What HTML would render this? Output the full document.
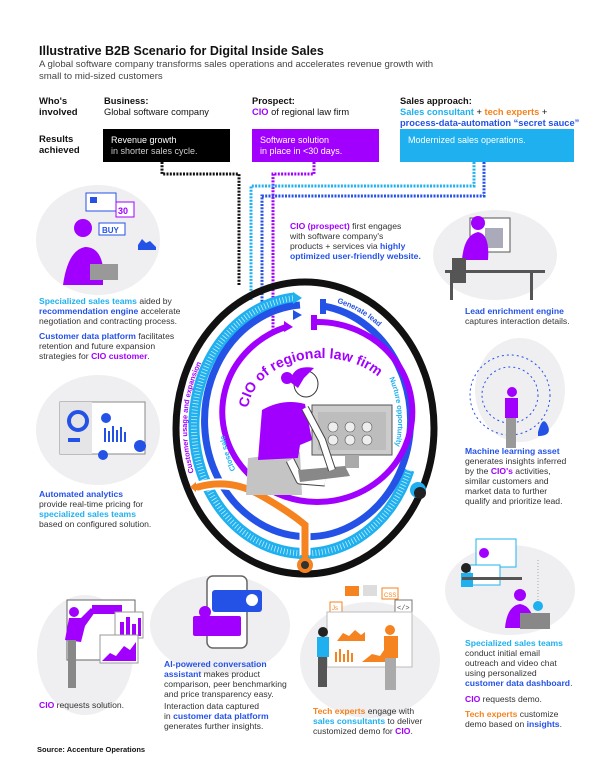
<!DOCTYPE html>
<html><head><meta charset="utf-8"><style>
*{margin:0;padding:0;box-sizing:border-box}
body{width:605px;height:770px;background:#fff;position:relative;overflow:hidden;font-family:"Liberation Sans",sans-serif;color:#222}
.t{position:absolute;font-size:8.6px;line-height:10px;white-space:nowrap;color:#333}
.b{font-weight:bold}
.p{color:#a100ff;font-weight:bold}.lb{color:#1fb0ef;font-weight:bold}.db{color:#2452e6;font-weight:bold}.o{color:#f5831f;font-weight:bold}
.box{position:absolute;top:129px;height:33px;color:#fff;font-size:9px;line-height:11px;padding:6px 8px}
svg{position:absolute;left:0;top:0}
</style></head><body>
<svg width="605" height="770" viewBox="0 0 605 770">
<defs>
<path id="cioArc" d="M248,412 A74,54 0 0 1 396,412"/>
<path id="custArc" d="M192,473 A120,136 0 0 1 236,316"/>
<path id="closeArc" d="M233,471 A88,100 0 0 1 222,404"/>
<path id="genArc" d="M338,300 A112,125 0 0 1 401,349"/>
<path id="nurtArc" d="M392,377 A92,104 0 0 1 389,473"/>
<path id="lbArc" d="M409,470 A111,128 0 1 1 295,298"/>
</defs>
<!-- illustration blobs -->
<g fill="#efeff1">
<ellipse cx="98" cy="240" rx="62" ry="55"/>
<ellipse cx="495" cy="255" rx="62" ry="45"/>
<ellipse cx="98" cy="430" rx="62" ry="55"/>
<ellipse cx="520" cy="390" rx="45" ry="52"/>
<ellipse cx="85" cy="655" rx="48" ry="60"/>
<ellipse cx="220" cy="625" rx="70" ry="50"/>
<ellipse cx="370" cy="660" rx="70" ry="58"/>
<ellipse cx="510" cy="590" rx="65" ry="45"/>
</g>
<!-- top-left illustration -->
<rect x="86" y="193" width="30" height="18" fill="#fff" stroke="#2452e6"/><rect x="90" y="197" width="7" height="6" fill="#2452e6"/>
<rect x="116" y="202" width="18" height="15" fill="#fff" stroke="#a100ff"/><text x="118" y="214" font-size="9" font-weight="bold" fill="#a100ff" font-family="Liberation Sans">30</text>
<rect x="99" y="223" width="26" height="12" fill="#fff" stroke="#2452e6"/><text x="102" y="233" font-size="8" font-weight="bold" fill="#2452e6" font-family="Liberation Sans">BUY</text>
<path d="M138,245 l4,-6 4,4 4,-2 6,6 0,3 -18,0z" fill="#2452e6"/>
<circle cx="83" cy="228" r="9" fill="#a100ff"/>
<path d="M63,285 q5,-35 22,-38 q15,0 18,20 l0,18z" fill="#a100ff"/>
<rect x="90" y="264" width="28" height="16" fill="#999"/>
<!-- top-right illustration -->
<rect x="470" y="218" width="40" height="34" fill="#fff" stroke="#555"/><rect x="485" y="228" width="18" height="20" fill="#aab"/>
<circle cx="478" cy="223" r="7" fill="#a100ff"/><path d="M462,260 q2,-25 16,-28 q12,2 10,28z" fill="#a100ff"/>
<rect x="452" y="258" width="14" height="25" fill="#555"/><rect x="445" y="270" width="100" height="3" fill="#555"/>
<rect x="450" y="273" width="3" height="27" fill="#555"/><rect x="530" y="273" width="3" height="27" fill="#555"/>
<!-- analytics illustration -->
<rect x="60" y="402" width="85" height="52" fill="#fff" stroke="#888"/><rect x="60" y="402" width="32" height="52" fill="#e5e5e8"/>
<circle cx="78" cy="421" r="9" fill="none" stroke="#2452e6" stroke-width="4"/>
<circle cx="106" cy="418" r="5" fill="#2452e6"/>
<g fill="#2452e6"><rect x="104" y="428" width="2" height="14"/><rect x="108" y="431" width="2" height="11"/><rect x="112" y="426" width="2" height="16"/><rect x="116" y="430" width="2" height="12"/><rect x="120" y="427" width="2" height="15"/><rect x="124" y="432" width="2" height="10"/><rect x="68" y="438" width="12" height="4"/></g>
<circle cx="140" cy="446" r="6" fill="#2452e6"/><circle cx="103" cy="455" r="5" fill="#2452e6"/>
<!-- ML illustration -->
<circle cx="510" cy="395" r="40" fill="none" stroke="#2452e6" stroke-width="1" stroke-dasharray="2 3"/>
<circle cx="510" cy="395" r="28" fill="none" stroke="#2452e6" stroke-width="1" stroke-dasharray="2 3"/>
<circle cx="512" cy="392" r="5" fill="#a100ff"/><rect x="505" y="398" width="13" height="20" fill="#a100ff"/><rect x="506" y="418" width="10" height="30" fill="#999"/>
<path d="M538,432 q5,-18 10,-6 q4,10 -10,10z" fill="#2452e6"/>
<!-- bottom-left illustration -->
<rect x="67" y="600" width="68" height="60" fill="#fff" stroke="#666"/><rect x="92" y="605" width="30" height="9" fill="#a100ff"/>
<rect x="115" y="612" width="28" height="26" fill="#fff" stroke="#999"/><g fill="#a100ff"><rect x="120" y="622" width="4" height="14"/><rect x="126" y="617" width="4" height="19"/><rect x="132" y="624" width="4" height="12"/><rect x="138" y="618" width="3" height="18"/></g>
<rect x="100" y="635" width="38" height="28" fill="#fff" stroke="#999"/><path d="M102,661 l8,-8 6,3 8,-10 6,4 6,-8 0,19z" fill="#a100ff"/>
<circle cx="74" cy="612" r="5" fill="#a100ff"/><path d="M65,640 l4,-22 12,0 10,-10 4,4 -10,14 -4,16z" fill="#a100ff"/><rect x="68" y="640" width="8" height="48" fill="#888"/>
<!-- phone -->
<rect x="207" y="576" width="40" height="72" rx="6" fill="#fff" stroke="#666" stroke-width="1.5"/>
<rect x="212" y="590" width="50" height="22" rx="3" fill="#2452e6"/><circle cx="252" cy="600" r="6" fill="#fff"/>
<rect x="193" y="616" width="48" height="20" rx="2" fill="#a100ff"/><circle cx="205" cy="612" r="6" fill="#a100ff"/>
<!-- tech experts -->
<rect x="345" y="586" width="14" height="10" fill="#f5831f"/><rect x="363" y="585" width="14" height="11" fill="#ddd"/><rect x="382" y="588" width="16" height="11" fill="#fff" stroke="#f5831f"/><text x="384" y="597" font-size="6" fill="#f5831f" font-family="Liberation Sans">CSS</text>
<rect x="330" y="602" width="12" height="10" fill="#fff" stroke="#f5831f"/><text x="332" y="610" font-size="6" fill="#f5831f" font-family="Liberation Sans">Js</text>
<rect x="395" y="600" width="17" height="13" fill="#fff" stroke="#777"/><text x="397" y="610" font-size="7" fill="#555" font-family="Liberation Mono">&lt;/&gt;</text>
<rect x="327" y="612" width="85" height="55" fill="#fff" stroke="#bbb"/>
<path d="M337,641 l6,-8 6,3 6,-6 6,5 4,-3 0,9z" fill="#f5831f"/><g fill="#f5831f"><rect x="335" y="652" width="2" height="10"/><rect x="339" y="649" width="2" height="13"/><rect x="343" y="654" width="2" height="8"/><rect x="347" y="650" width="2" height="12"/><rect x="351" y="653" width="2" height="9"/></g>
<path d="M362,662 l10,-8 8,2 8,-12 0,18z" fill="#f5831f"/>
<circle cx="323" cy="632" r="5" fill="#222"/><rect x="317" y="637" width="12" height="20" fill="#1fb0ef"/><rect x="318" y="657" width="9" height="30" fill="#555"/>
<circle cx="390" cy="630" r="5" fill="#f5831f"/><rect x="384" y="636" width="14" height="22" fill="#f5831f"/><rect x="385" y="658" width="11" height="32" fill="#aaa"/>
<!-- right bottom illustration -->
<rect x="476" y="539" width="40" height="28" fill="#fff" stroke="#1fb0ef"/><circle cx="484" cy="553" r="5" fill="#a100ff"/>
<rect x="470" y="565" width="30" height="20" fill="#fff" stroke="#1fb0ef"/><circle cx="466" cy="568" r="5" fill="#222"/><rect x="461" y="573" width="12" height="14" fill="#1fb0ef"/>
<rect x="462" y="577" width="60" height="3" fill="#555"/>
<circle cx="520" cy="595" r="6" fill="#a100ff"/><path d="M505,628 q2,-22 15,-24 q13,2 15,24z" fill="#a100ff"/><rect x="520" y="613" width="30" height="16" fill="#888"/>
<circle cx="538" cy="606" r="5" fill="#1fb0ef"/><line x1="538" y1="560" x2="538" y2="600" stroke="#aaa" stroke-dasharray="1 2"/>

<!-- dotted connectors -->
<g fill="none" stroke-width="3" stroke-dasharray="2 1.3">
<path d="M162,162 V174 H239 V285" stroke="#111"/>
<path d="M314,162 V174 H273 V335" stroke="#a100ff"/>
<path d="M474,162 V186 H251 V300" stroke="#1fb0ef"/>
<path d="M484,162 V196 H262 V318" stroke="#2452e6"/>
</g>

<!-- rings -->
<ellipse cx="305" cy="428" rx="129" ry="146" fill="none" stroke="#111" stroke-width="7"/>
<use href="#lbArc" fill="none" stroke="#1fb0ef" stroke-width="11"/>
<use href="#lbArc" fill="none" stroke="#fff" stroke-width="6" stroke-dasharray="0.8 2.4" opacity="0.75"/>
<path d="M323,306 A103,116 0 1 1 300,305" fill="none" stroke="#2452e6" stroke-width="7"/>
<path d="M315,322 A95,90 0 1 1 286,327" fill="none" stroke="#a100ff" stroke-width="6"/>
<path d="M293,292 l9,6 -9,6z" fill="#1fb0ef"/><path d="M293,310 l9,5 -9,5z" fill="#2452e6"/><path d="M284,321 l9,6 -9,5z" fill="#a100ff"/>
<rect x="320" y="299" width="6" height="15" fill="#2452e6"/><rect x="311" y="315" width="6" height="15" fill="#a100ff"/>
<!-- orange -->
<path d="M198,487 Q230,478 260,495 T305,525 V555" fill="none" stroke="#fff" stroke-width="11"/>
<path d="M198,487 Q230,478 260,495 T305,525 V555" fill="none" stroke="#f5831f" stroke-width="7" stroke-linecap="round"/>
<path d="M196,482 l-6,5 6,5z" fill="#f5831f"/>
<circle cx="305" cy="565" r="8" fill="#f5831f"/><circle cx="305" cy="565" r="4" fill="#333"/>
<circle cx="418" cy="490" r="8" fill="#1fb0ef"/><circle cx="420" cy="493" r="6" fill="#222"/>
<!-- center woman -->
<rect x="312" y="405" width="80" height="50" fill="#ccc" stroke="#555"/><rect x="318" y="412" width="68" height="38" fill="#bdbdbd"/>
<g fill="#eee" stroke="#555" stroke-width=".6"><circle cx="333" cy="427" r="5"/><circle cx="350" cy="427" r="5"/><circle cx="367" cy="427" r="5"/><circle cx="333" cy="440" r="5"/><circle cx="350" cy="440" r="5"/><circle cx="367" cy="440" r="5"/></g>
<rect x="345" y="455" width="14" height="13" fill="#aaa"/>
<path d="M248,458 L300,452 L302,495 L246,495 z" fill="#c4c4c4"/>
<path d="M258,460 L262,410 Q283,398 305,404 L312,440 L300,445 L298,458 z" fill="#a100ff"/>
<path d="M290,460 L300,480 L325,482" fill="none" stroke="#444" stroke-width="9" stroke-linejoin="round"/>
<path d="M290,460 L300,480 L325,482" fill="none" stroke="#fff" stroke-width="7" stroke-linejoin="round"/>
<path d="M298,470 L345,466 L350,476 L300,482z" fill="#888"/>
<path d="M305,408 L322,440 L332,470" fill="none" stroke="#444" stroke-width="8" stroke-linejoin="round"/>
<path d="M305,408 L322,440 L332,470" fill="none" stroke="#fff" stroke-width="6" stroke-linejoin="round"/>
<ellipse cx="306" cy="384" rx="12" ry="13" fill="#fff" stroke="#333"/>
<path d="M290,382 q3,-18 24,-14 l-10,10 -6,10z" fill="#a100ff"/><circle cx="287" cy="378" r="6" fill="#a100ff"/>
<!-- arc labels -->
<text font-size="14" font-weight="bold" fill="#a100ff" font-family="Liberation Sans"><textPath href="#cioArc" startOffset="4">CIO of regional law firm</textPath></text>
<text font-size="7.5" font-weight="bold" fill="#a100ff" font-family="Liberation Sans" dy="2"><textPath href="#custArc">Customer usage and expansion</textPath></text>
<text font-size="7.5" font-weight="bold" fill="#1fb0ef" font-family="Liberation Sans" dy="3"><textPath href="#closeArc">Close sale</textPath></text>
<text font-size="7.5" font-weight="bold" fill="#2452e6" font-family="Liberation Sans" dy="3"><textPath href="#genArc">Generate lead</textPath></text>
<text font-size="7.5" font-weight="bold" fill="#1fb0ef" font-family="Liberation Sans" dy="3"><textPath href="#nurtArc">Nurture opportunity</textPath></text>
</svg>

<div class="t b" style="left:39px;top:44px;font-size:12.5px;line-height:15px;color:#111">Illustrative B2B Scenario for Digital Inside Sales</div>
<div class="t" style="left:39px;top:59px;font-size:9.6px;line-height:11.5px;color:#444">A global software company transforms sales operations and accelerates revenue growth with<br>small to mid-sized customers</div>
<div class="t b" style="left:39px;top:96px;font-size:9.5px;line-height:11px;color:#111">Who's<br>involved</div>
<div class="t" style="left:104px;top:96px;font-size:9.3px;line-height:11px;color:#111"><b>Business:</b><br>Global software company</div>
<div class="t" style="left:252px;top:96px;font-size:9.3px;line-height:11px;color:#111"><b>Prospect:</b><br><span class="p">CIO</span> of regional law firm</div>
<div class="t" style="left:400px;top:96px;font-size:9.3px;line-height:11px;color:#111"><b>Sales approach:</b><br><span class="lb">Sales consultant</span> + <span class="o">tech experts</span> +<br><span class="db">process-data-automation “secret sauce”</span></div>
<div class="t b" style="left:39px;top:134px;font-size:9.5px;line-height:11px;color:#111">Results<br>achieved</div>
<div class="box" style="left:103px;width:127px;background:#000">Revenue growth<br><span style="color:#ccc">in shorter sales cycle.</span></div>
<div class="box" style="left:252px;width:127px;background:#a100ff">Software solution<br>in place in &lt;30 days.</div>
<div class="box" style="left:400px;width:174px;background:#1fb0ef">Modernized sales operations.</div>

<div class="t" style="left:290px;top:221px"><span class="p">CIO (prospect)</span> first engages<br>with software company's<br>products + services via <span class="db">highly</span><br><span class="db">optimized user-friendly website.</span></div>
<div class="t" style="left:39px;top:296px"><span class="lb">Specialized sales teams</span> aided by<br><span class="db">recommendation engine</span> accelerate<br>negotiation and contracting process.</div>
<div class="t" style="left:39px;top:331px"><span class="db">Customer data platform</span> facilitates<br>retention and future expansion<br>strategies for <span class="p">CIO customer</span>.</div>
<div class="t" style="left:465px;top:306px"><span class="db">Lead enrichment engine</span><br>captures interaction details.</div>
<div class="t" style="left:465px;top:446px"><span class="db">Machine learning asset</span><br>generates insights inferred<br>by the <span class="p">CIO's</span> activities,<br>similar customers and<br>market data to further<br>qualify and prioritize lead.</div>
<div class="t" style="left:39px;top:489px"><span class="db">Automated analytics</span><br>provide real-time pricing for<br><span class="lb">specialized sales teams</span><br>based on configured solution.</div>
<div class="t" style="left:465px;top:638px"><span class="lb">Specialized sales teams</span><br>conduct initial email<br>outreach and video chat<br>using personalized<br><span class="db">customer data dashboard</span>.</div>
<div class="t" style="left:465px;top:694px"><span class="p">CIO</span> requests demo.</div>
<div class="t" style="left:465px;top:709px"><span class="o">Tech experts</span> customize<br>demo based on <span class="db">insights</span>.</div>
<div class="t" style="left:39px;top:700px"><span class="p">CIO</span> requests solution.</div>
<div class="t" style="left:164px;top:659px"><span class="db">AI-powered conversation</span><br><span class="db">assistant</span> makes product<br>comparison, peer benchmarking<br>and price transparency easy.</div>
<div class="t" style="left:164px;top:701px">Interaction data captured<br>in <span class="db">customer data platform</span><br>generates further insights.</div>
<div class="t" style="left:313px;top:706px"><span class="o">Tech experts</span> engage with<br><span class="lb">sales consultants</span> to deliver<br>customized demo for <span class="p">CIO</span>.</div>
<div class="t b" style="left:37px;top:745px;font-size:7.5px;color:#111">Source: Accenture Operations</div>
</body></html>
